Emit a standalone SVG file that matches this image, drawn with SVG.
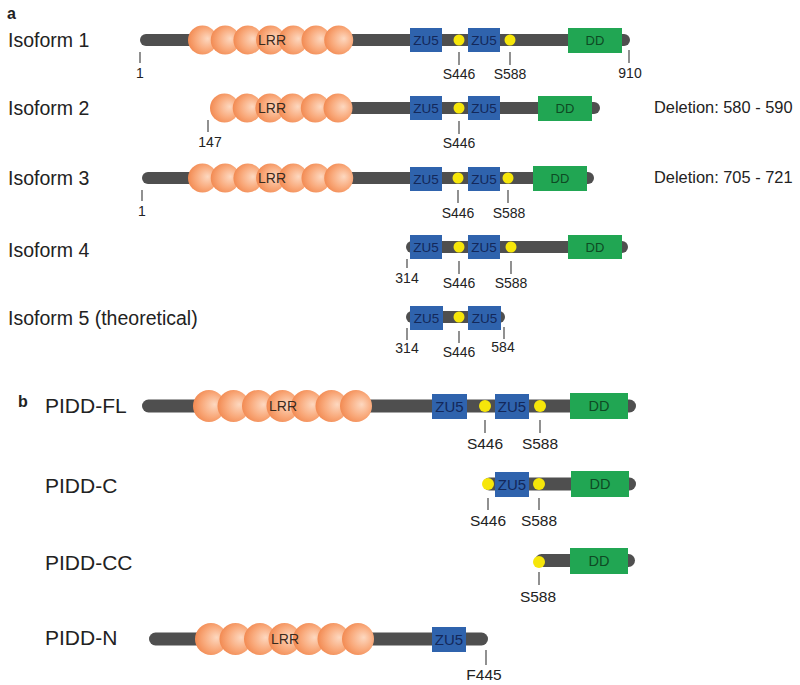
<svg xmlns="http://www.w3.org/2000/svg" width="800" height="685" viewBox="0 0 800 685">
<defs>
<radialGradient id="lrr" cx="0.6" cy="0.5" r="0.6" fx="0.68" fy="0.45">
<stop offset="0" stop-color="#fdd8c0"/>
<stop offset="0.6" stop-color="#f9aa7c"/>
<stop offset="1" stop-color="#f28a52"/>
</radialGradient>
</defs>
<style>
.bar{fill:#4f4f4f}
.c{fill:url(#lrr)}
.zu{fill:#2f63ad}
.dd{fill:#21a653}
.dot{fill:#f6e60a}
.tk{stroke:#555;stroke-width:1.3}
text{font-family:"Liberation Sans",Arial,sans-serif;fill:#222}
.lab{font-size:19.5px}
.labb{font-size:21px}
.hd{font-size:16px;font-weight:bold}
.del{font-size:16.4px}
.lrr{font-size:14px;text-anchor:middle;fill:#3a2a1e}
.zt{font-size:13.5px;text-anchor:middle;fill:#13285a}
.dt{font-size:13px;text-anchor:middle;fill:#0e4a24}
.zt2{font-size:15px;text-anchor:middle;fill:#13285a}
.dt2{font-size:14.5px;text-anchor:middle;fill:#0e4a24}
.num{font-size:14px;text-anchor:middle}
.num2{font-size:15.5px;text-anchor:middle}
</style>

<text class="hd" x="7" y="19">a</text>
<text class="hd" x="18" y="407">b</text>

<!-- Isoform 1 -->
<g id="isoform1">
<text class="lab" x="8" y="47">Isoform 1</text>
<rect class="bar" x="140" y="34" width="490" height="12" rx="6"/>
<circle class="c" cx="202.5" cy="40" r="14.5"/><circle class="c" cx="225.2" cy="40" r="14.5"/><circle class="c" cx="247.9" cy="40" r="14.5"/><circle class="c" cx="270.6" cy="40" r="14.5"/><circle class="c" cx="293.3" cy="40" r="14.5"/><circle class="c" cx="316" cy="40" r="14.5"/><circle class="c" cx="338.7" cy="40" r="14.5"/>
<text class="lrr" x="272" y="45">LRR</text>
<rect class="zu" x="410" y="28" width="32" height="24"/><text class="zt" x="426" y="45">ZU5</text>
<rect class="zu" x="468" y="28" width="32" height="24"/><text class="zt" x="484" y="45">ZU5</text>
<circle class="dot" cx="459" cy="40" r="5.5"/><circle class="dot" cx="510" cy="40" r="5.5"/>
<rect class="dd" x="568" y="28" width="54" height="25"/><text class="dt" x="595" y="45">DD</text>
<line class="tk" x1="140" y1="52" x2="140" y2="63"/><text class="num" x="140" y="78">1</text>
<line class="tk" x1="459" y1="52" x2="459" y2="65"/><text class="num" x="459" y="79">S446</text>
<line class="tk" x1="510" y1="52" x2="510" y2="65"/><text class="num" x="510" y="79">S588</text>
<line class="tk" x1="629" y1="50" x2="629" y2="63"/><text class="num" x="630" y="78">910</text>
</g>

<!-- Isoform 2 -->
<g id="isoform2">
<text class="lab" x="8" y="115">Isoform 2</text>
<rect class="bar" x="214" y="102" width="386" height="12" rx="6"/>
<circle class="c" cx="224.5" cy="108" r="14.5"/><circle class="c" cx="247.2" cy="108" r="14.5"/><circle class="c" cx="269.9" cy="108" r="14.5"/><circle class="c" cx="292.6" cy="108" r="14.5"/><circle class="c" cx="315.3" cy="108" r="14.5"/><circle class="c" cx="338" cy="108" r="14.5"/>
<text class="lrr" x="272" y="113">LRR</text>
<rect class="zu" x="410" y="96" width="32" height="24"/><text class="zt" x="426" y="113">ZU5</text>
<rect class="zu" x="468" y="96" width="32" height="24"/><text class="zt" x="484" y="113">ZU5</text>
<circle class="dot" cx="459" cy="108" r="5.5"/>
<rect class="dd" x="538" y="96" width="54" height="25"/><text class="dt" x="565" y="113">DD</text>
<line class="tk" x1="208" y1="120" x2="208" y2="132"/><text class="num" x="210" y="147">147</text>
<line class="tk" x1="459" y1="121" x2="459" y2="134"/><text class="num" x="459" y="148">S446</text>
<text class="del" x="654" y="113">Deletion: 580 - 590</text>
</g>

<!-- Isoform 3 -->
<g id="isoform3">
<text class="lab" x="8" y="185">Isoform 3</text>
<rect class="bar" x="142" y="172" width="452" height="12" rx="6"/>
<circle class="c" cx="202.5" cy="178" r="14.5"/><circle class="c" cx="225.2" cy="178" r="14.5"/><circle class="c" cx="247.9" cy="178" r="14.5"/><circle class="c" cx="270.6" cy="178" r="14.5"/><circle class="c" cx="293.3" cy="178" r="14.5"/><circle class="c" cx="316" cy="178" r="14.5"/><circle class="c" cx="338.7" cy="178" r="14.5"/>
<text class="lrr" x="272" y="183">LRR</text>
<rect class="zu" x="410" y="167" width="32" height="24"/><text class="zt" x="426" y="184">ZU5</text>
<rect class="zu" x="468" y="167" width="32" height="24"/><text class="zt" x="484" y="184">ZU5</text>
<circle class="dot" cx="458" cy="178" r="5.5"/><circle class="dot" cx="508" cy="178" r="5.5"/>
<rect class="dd" x="533" y="166" width="54" height="25"/><text class="dt" x="560" y="183">DD</text>
<line class="tk" x1="142" y1="190" x2="142" y2="201"/><text class="num" x="142" y="216">1</text>
<line class="tk" x1="458" y1="190" x2="458" y2="203"/><text class="num" x="458" y="218">S446</text>
<line class="tk" x1="508" y1="190" x2="508" y2="203"/><text class="num" x="509" y="218">S588</text>
<text class="del" x="654" y="183">Deletion: 705 - 721</text>
</g>

<!-- Isoform 4 -->
<g id="isoform4">
<text class="lab" x="8" y="257">Isoform 4</text>
<rect class="bar" x="406" y="241" width="222" height="12" rx="6"/>
<rect class="zu" x="410" y="235" width="32" height="24"/><text class="zt" x="426" y="252">ZU5</text>
<rect class="zu" x="468" y="235" width="32" height="24"/><text class="zt" x="484" y="252">ZU5</text>
<circle class="dot" cx="459" cy="247" r="5.5"/><circle class="dot" cx="511" cy="247" r="5.5"/>
<rect class="dd" x="568" y="235" width="54" height="24"/><text class="dt" x="595" y="252">DD</text>
<line class="tk" x1="407" y1="259" x2="407" y2="268"/><text class="num" x="407" y="283">314</text>
<line class="tk" x1="459" y1="261" x2="459" y2="274"/><text class="num" x="459" y="288">S446</text>
<line class="tk" x1="511" y1="261" x2="511" y2="274"/><text class="num" x="511" y="288">S588</text>
</g>

<!-- Isoform 5 -->
<g id="isoform5">
<text class="lab" x="8" y="325">Isoform 5 (theoretical)</text>
<rect class="bar" x="406" y="311" width="99" height="12" rx="6"/>
<rect class="zu" x="410" y="306" width="33" height="24"/><text class="zt" x="426.5" y="323">ZU5</text>
<rect class="zu" x="468" y="306" width="33" height="24"/><text class="zt" x="484.5" y="323">ZU5</text>
<circle class="dot" cx="459" cy="317" r="5.5"/>
<line class="tk" x1="407" y1="328" x2="407" y2="340"/><text class="num" x="407" y="353">314</text>
<line class="tk" x1="459" y1="331" x2="459" y2="343"/><text class="num" x="459" y="357">S446</text>
<line class="tk" x1="504" y1="327" x2="504" y2="339"/><text class="num" x="503" y="352">584</text>
</g>

<!-- PIDD-FL -->
<g id="pidd-fl">
<text class="labb" x="45" y="413">PIDD-FL</text>
<rect class="bar" x="142" y="399.5" width="494" height="13" rx="6.5"/>
<circle class="c" cx="209" cy="406" r="16"/><circle class="c" cx="233.5" cy="406" r="16"/><circle class="c" cx="258" cy="406" r="16"/><circle class="c" cx="282.5" cy="406" r="16"/><circle class="c" cx="307" cy="406" r="16"/><circle class="c" cx="331.5" cy="406" r="16"/><circle class="c" cx="356" cy="406" r="16"/>
<text class="lrr" x="283" y="411">LRR</text>
<rect class="zu" x="432" y="394" width="35" height="25"/><text class="zt2" x="449.5" y="412">ZU5</text>
<rect class="zu" x="495" y="394" width="34" height="25"/><text class="zt2" x="512" y="412">ZU5</text>
<circle class="dot" cx="485" cy="406" r="6"/><circle class="dot" cx="540" cy="406" r="6"/>
<rect class="dd" x="570" y="393" width="58" height="26"/><text class="dt2" x="599" y="411">DD</text>
<line class="tk" x1="485" y1="420" x2="485" y2="433"/><text class="num2" x="485" y="449">S446</text>
<line class="tk" x1="540" y1="420" x2="540" y2="433"/><text class="num2" x="540" y="449">S588</text>
</g>

<!-- PIDD-C -->
<g id="pidd-c">
<text class="labb" x="45" y="493">PIDD-C</text>
<rect class="bar" x="483" y="477.5" width="153" height="13" rx="6.5"/>
<rect class="zu" x="495" y="472" width="34" height="25"/><text class="zt2" x="512" y="490">ZU5</text>
<circle class="dot" cx="488" cy="484" r="6"/><circle class="dot" cx="539" cy="484" r="6"/>
<rect class="dd" x="571" y="471" width="58" height="26"/><text class="dt2" x="600" y="489">DD</text>
<line class="tk" x1="488" y1="498" x2="488" y2="510"/><text class="num2" x="488" y="526">S446</text>
<line class="tk" x1="539" y1="498" x2="539" y2="510"/><text class="num2" x="539" y="526">S588</text>
</g>

<!-- PIDD-CC -->
<g id="pidd-cc">
<text class="labb" x="45" y="570">PIDD-CC</text>
<rect class="bar" x="535" y="554" width="100" height="13" rx="6.5"/>
<circle class="dot" cx="539" cy="562" r="6"/>
<rect class="dd" x="570" y="548" width="58" height="26"/><text class="dt2" x="599" y="566">DD</text>
<line class="tk" x1="539" y1="572" x2="539" y2="585"/><text class="num2" x="538" y="602">S588</text>
</g>

<!-- PIDD-N -->
<g id="pidd-n">
<text class="labb" x="45" y="645">PIDD-N</text>
<rect class="bar" x="149" y="632.5" width="339" height="13" rx="6.5"/>
<circle class="c" cx="211" cy="639" r="16"/><circle class="c" cx="235.5" cy="639" r="16"/><circle class="c" cx="260" cy="639" r="16"/><circle class="c" cx="284.5" cy="639" r="16"/><circle class="c" cx="309" cy="639" r="16"/><circle class="c" cx="333.5" cy="639" r="16"/><circle class="c" cx="358" cy="639" r="16"/>
<text class="lrr" x="285" y="644">LRR</text>
<rect class="zu" x="432" y="627" width="34" height="25"/><text class="zt2" x="449" y="645">ZU5</text>
<line class="tk" x1="486" y1="650" x2="486" y2="665"/><text class="num2" x="484" y="680">F445</text>
</g>

<g id="connectors"></g>
</svg>
